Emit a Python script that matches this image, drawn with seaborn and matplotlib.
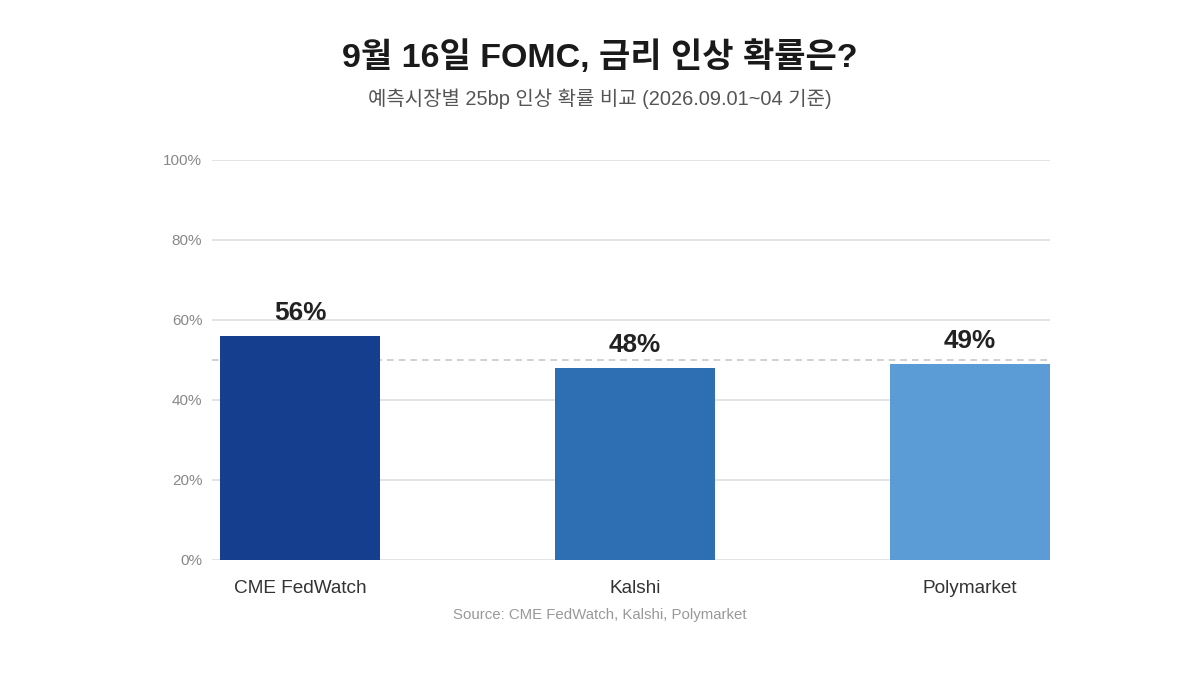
import matplotlib
matplotlib.use("Agg")
import matplotlib.pyplot as plt
import seaborn as sns
import pandas as pd

# data
markets = ["CME FedWatch", "Kalshi", "Polymarket"]
probabilities = [56, 48, 49]
bar_colors = ["#163e8f", "#2e6fb4", "#5b9bd6"]
y_ticks = [0, 20, 40, 60, 80, 100]
reference_level = 50

title = "9월 16일 FOMC, 금리 인상 확률은?"
subtitle = "예측시장별 25bp 인상 확률 비교 (2026.09.01~04 기준)"
source = "Source: CME FedWatch, Kalshi, Polymarket"

sns.set_theme(style="white")
plt.rcParams["font.family"] = ["Liberation Sans", "Noto Sans CJK KR", "DejaVu Sans"]

df = pd.DataFrame({"market": markets, "prob": probabilities})

fig = plt.figure(figsize=(12, 6.75), dpi=100)
ax = fig.add_axes([0.1767, 0.1704, 0.6983, 0.5926])

ax.set_axisbelow(True)
for t in y_ticks:
    ax.axhline(t, color="#e0e0e0", lw=1.3, zorder=0)

sns.barplot(data=df, x="market", y="prob", hue="market", palette=bar_colors,
            width=0.478, legend=False, ax=ax, zorder=2, saturation=1, linewidth=0)

ax.axhline(reference_level, color="#c8c8c8", lw=1.2, ls=(0, (4, 3)), zorder=1)

for i, v in enumerate(probabilities):
    ax.annotate(f"{v}%", (i, v), xytext=(0, 8), textcoords="offset points",
                ha="center", va="bottom", fontsize=18.8, fontweight="bold", color="#222222")

ax.set_xlim(-0.263, 2.239)
ax.set_ylim(0, 100)
ax.set_yticks(y_ticks)
ax.set_yticklabels([f"{t}%" for t in y_ticks], color="#888888", fontsize=11)
ax.tick_params(axis="y", length=0, pad=7)
ax.tick_params(axis="x", length=0, pad=14.5, labelsize=13.7, labelcolor="#333333")
ax.set_xlabel("")
ax.set_ylabel("")
for s in ax.spines.values():
    s.set_visible(False)

fig.text(0.5, 1 - 57 / 675, title, ha="center", va="center", fontsize=24.5,
         fontweight="bold", color="#1a1a1a")
fig.text(0.5, 1 - 99 / 675, subtitle, ha="center", va="center", fontsize=14.4,
         color="#555555")
fig.text(0.5, 1 - 615 / 675, source, ha="center", va="center", fontsize=10.8,
         color="#999999")

fig.savefig("out.png", dpi=100)
